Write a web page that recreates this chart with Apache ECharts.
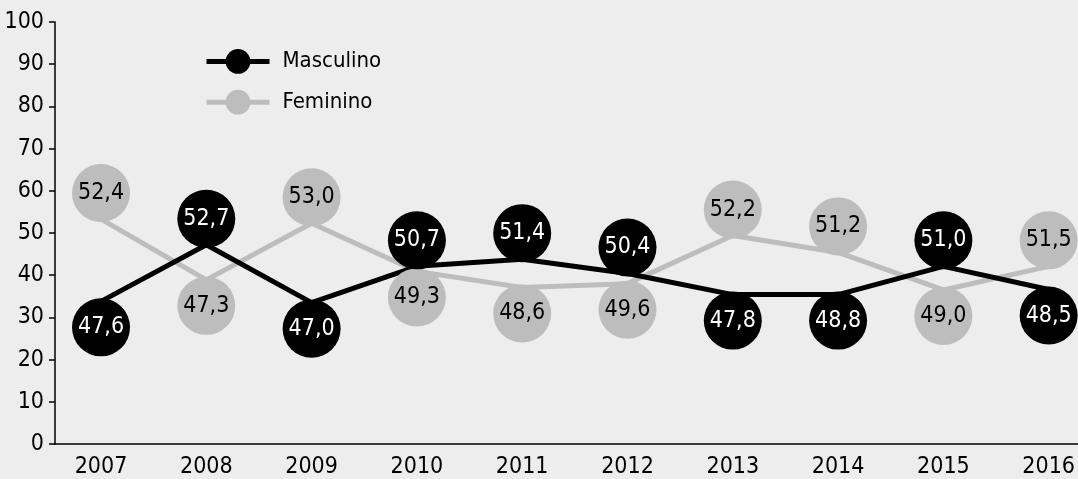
<!DOCTYPE html>
<html>
<head>
<meta charset="utf-8">
<script src="https://cdn.jsdelivr.net/npm/echarts@6/dist/echarts.min.js"></script>
<style>
html,body{margin:0;padding:0;background:#ededed;}
#chart{width:1078px;height:479px;}
</style>
</head>
<body>
<div id="chart"></div>
<script>
// Categories (years)
const years = [2007, 2008, 2009, 2010, 2011, 2012, 2013, 2014, 2015, 2016];
// Printed values (labels in the circles)
const masculinoValues = [47.6, 52.7, 47.0, 50.7, 51.4, 50.4, 47.8, 48.8, 51.0, 48.5];
const femininoValues  = [52.4, 47.3, 53.0, 49.3, 48.6, 49.6, 52.2, 51.2, 49.0, 51.5];
// Plotted line heights as drawn in the picture (axis units)
const masculinoLine = [33.8, 47.2, 33.5, 42.1, 43.8, 40.4, 35.4, 35.4, 42.1, 36.6];
const femininoLine  = [53.3, 38.9, 52.3, 40.9, 37.1, 38.0, 49.4, 45.4, 36.5, 42.1];
// Y axis ticks
const yMin = 0, yMax = 100, yStep = 10;

const FONT = "'Liberation Sans Narrow', 'DejaVu Sans Condensed', 'Roboto Condensed', Roboto, sans-serif";
const BLACK = '#000000';
const GREY = '#bdbdbd';
const R = 29;     // circle radius
const OFF = 26;   // circle offset from line vertex

function fmt(v){ return v.toFixed(1).replace('.', ','); }

function bubbleData(lineVals, ownVals, otherVals){
  return years.map((y, i) => ({
    value: [y, lineVals[i]],
    symbolOffset: [0, ownVals[i] > otherVals[i] ? -OFF : OFF]
  }));
}

const chart = echarts.init(document.getElementById('chart'), null, {renderer: 'canvas'});
chart.setOption({
  backgroundColor: '#ededed',
  animation: false,
  grid: {left: 55, right: 0, top: 22, bottom: 34, containLabel: false},
  legend: {
    orient: 'vertical',
    left: 204, top: 49,
    padding: 0,
    itemWidth: 63, itemHeight: 31, itemGap: 16,
    data: ['Masculino', 'Feminino'],
    lineStyle: {width: 5},
    textStyle: {fontFamily: FONT, fontSize: 22, color: '#000', padding: [0, 0, 0, 8]}
  },
  xAxis: {
    type: 'value',
    min: 2006.563, max: 2016.278,
    axisLine: {show: true, onZero: false, lineStyle: {color: '#000', width: 1.5}},
    axisTick: {show: false},
    splitLine: {show: false},
    axisLabel: {
      customValues: years,
      formatter: v => String(Math.round(v)),
      fontFamily: FONT, fontSize: 23, color: '#000', margin: 12
    }
  },
  yAxis: {
    type: 'value',
    min: yMin, max: yMax, interval: yStep,
    axisLine: {show: true, lineStyle: {color: '#000', width: 1.5}},
    axisTick: {show: true, length: 6, lineStyle: {color: '#000', width: 1.5}},
    splitLine: {show: false},
    axisLabel: {fontFamily: FONT, fontSize: 23, color: '#000', margin: 11}
  },
  series: [
    {
      name: 'Feminino', type: 'line', symbol: 'circle', showSymbol: false,
      color: GREY, lineStyle: {width: 5, color: GREY}, itemStyle: {color: GREY},
      data: years.map((y, i) => [y, femininoLine[i]]), z: 2
    },
    {
      name: 'Masculino', type: 'line', symbol: 'circle', showSymbol: false,
      color: BLACK, lineStyle: {width: 5, color: BLACK}, itemStyle: {color: BLACK},
      data: years.map((y, i) => [y, masculinoLine[i]]), z: 3
    },
    {
      name: 'FemininoCircles', type: 'scatter', symbol: 'circle', symbolSize: 2 * R,
      itemStyle: {color: GREY, opacity: 1}, clip: false, z: 4,
      data: bubbleData(femininoLine, femininoValues, masculinoValues),
      label: {show: true, position: 'inside', color: '#000', fontFamily: FONT, fontSize: 23,
        formatter: p => fmt(femininoValues[p.dataIndex])}
    },
    {
      name: 'MasculinoCircles', type: 'scatter', symbol: 'circle', symbolSize: 2 * R,
      itemStyle: {color: BLACK, opacity: 1}, clip: false, z: 5,
      data: bubbleData(masculinoLine, masculinoValues, femininoValues),
      label: {show: true, position: 'inside', color: '#fff', fontFamily: FONT, fontSize: 23,
        formatter: p => fmt(masculinoValues[p.dataIndex])}
    }
  ]
});
</script>
</body>
</html>
